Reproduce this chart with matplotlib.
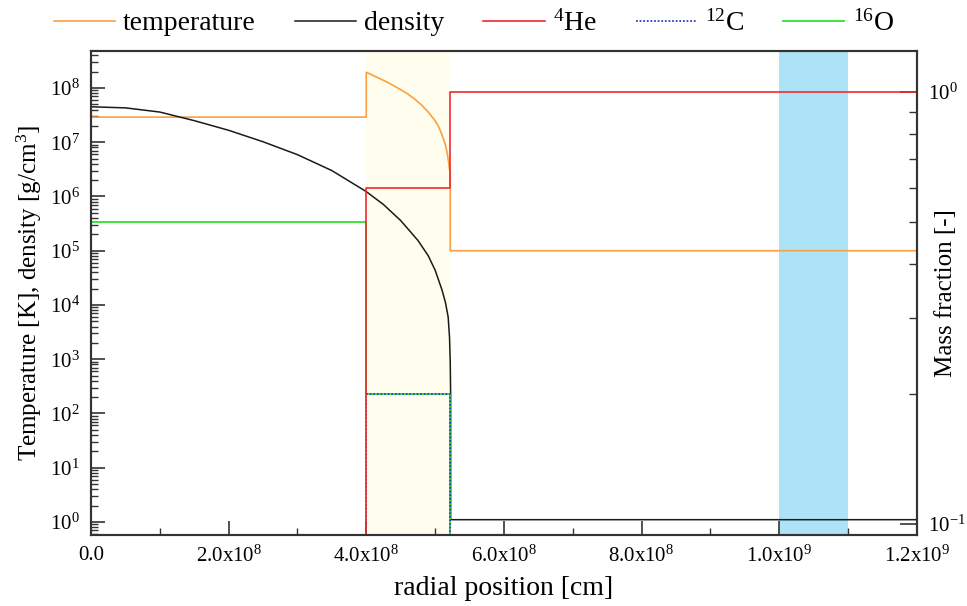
import matplotlib
matplotlib.use("Agg")
import matplotlib.pyplot as plt
from matplotlib.ticker import FuncFormatter, LogLocator, MultipleLocator, NullFormatter

plt.rcParams["font.family"] = ["Liberation Serif", "DejaVu Serif"]
plt.rcParams["mathtext.fontset"] = "stix"
plt.rcParams["mathtext.default"] = "regular"
plt.rcParams["axes.unicode_minus"] = False

# temperature profile [K]
temp_r = [0.0, 4.0e8, 4.0e8, 4.1e8, 4.2e8, 4.3e8, 4.4e8, 4.5e8, 4.6e8, 4.7e8,
          4.8e8, 4.9e8, 5.0e8, 5.05e8, 5.1e8, 5.15e8, 5.18e8, 5.2e8, 5.21e8,
          5.22e8, 5.22e8, 1.2e9]
temp_T = [2.9e7, 2.9e7, 1.95e8, 1.70e8, 1.48e8, 1.29e8, 1.10e8, 9.3e7, 7.8e7, 6.3e7,
          4.9e7, 3.6e7, 2.5e7, 1.95e7, 1.38e7, 8.9e6, 6.0e6, 4.0e6, 3.1e6,
          3.0e6, 1.0e5, 1.0e5]

# density profile [g/cm^3]
dens_r = [0.0, 0.5e8, 1.0e8, 1.5e8, 2.0e8, 2.5e8, 3.0e8, 3.5e8, 4.0e8, 4.25e8,
          4.5e8, 4.75e8, 4.9e8, 5.0e8, 5.1e8, 5.15e8, 5.19e8, 5.21e8, 5.22e8,
          5.226e8, 5.226e8, 1.2e9]
dens_rho = [4.5e7, 4.3e7, 3.6e7, 2.5e7, 1.66e7, 1.02e7, 5.9e6, 3.0e6, 1.23e6, 7.1e5,
            3.6e5, 1.55e5, 8.1e4, 4.4e4, 1.9e4, 1.12e4, 6.0e3, 2.5e3, 8.9e2,
            2.2e2, 1.1, 1.1]

# mass fractions per zone
zone_edges = [0.0, 4.0e8, 5.22e8, 1.2e9]
he4 = [0.0, 0.6, 1.0]
c12 = [0.0, 0.2, 0.0]
o16 = [0.5, 0.2, 0.0]

shell_span = (4.0e8, 5.22e8)
marker_span = (1.0e9, 1.1e9)

c_temp = "#F9A043"
c_dens = "#1a1a1a"
c_he = "#EE2B2B"
c_c = "#2B3FC4"
c_o = "#2EE02E"
spine_col = "#333333"


def sci_label(x, pos):
    if x == 0:
        return "0.0"
    exp = int(f"{x:e}".split("e")[1])
    return f"{x / 10**exp:.1f}x10$^{{{exp}}}$"


def steps(edges, vals):
    return edges, list(vals) + [vals[-1]]


fig = plt.figure(figsize=(9.67, 6.06), dpi=100)
ax = fig.add_axes([0.0941, 0.1172, 0.854, 0.7986])
ax2 = ax.twinx()

ax.axvspan(*shell_span, color="#FFFEEE", lw=0, zorder=0)
ax.axvspan(*marker_span, color="#ADE3F7", lw=0, zorder=0)

l_t, = ax.plot(temp_r, temp_T, color=c_temp, lw=1.2, label="temperature")
l_d, = ax.plot(dens_r, dens_rho, color=c_dens, lw=1.1, label="density")

x, y = steps(zone_edges, o16)
l_o, = ax2.plot(x, y, drawstyle="steps-post", color=c_o, lw=1.3, zorder=2.0,
                label="$^{16}$O")
x, y = steps(zone_edges, c12)
l_c, = ax2.plot(x, y, drawstyle="steps-post", color=c_c, lw=1.3, ls=(0, (1, 1)),
                zorder=2.2, label="$^{12}$C")
x, y = steps(zone_edges, he4)
l_h, = ax2.plot(x, y, drawstyle="steps-post", color=c_he, lw=1.2, zorder=2.4,
                label="$^{4}$He")

ax.set_yscale("log")
ax2.set_yscale("log")
ax.set_xlim(0, 1.2e9)
ax.set_ylim(0.575, 4.8e8)
ax2.set_ylim(0.0943, 1.245)

ax.xaxis.set_major_locator(MultipleLocator(2.0e8))
ax.xaxis.set_minor_locator(MultipleLocator(1.0e8))
ax.xaxis.set_major_formatter(FuncFormatter(sci_label))
ax.yaxis.set_major_locator(LogLocator(base=10, numticks=20))
ax.yaxis.set_minor_locator(LogLocator(base=10, subs=range(2, 10), numticks=20))
ax.yaxis.set_minor_formatter(NullFormatter())
ax2.yaxis.set_major_locator(LogLocator(base=10, numticks=5))
ax2.yaxis.set_minor_locator(LogLocator(base=10, subs=range(2, 10), numticks=5))
ax2.yaxis.set_minor_formatter(NullFormatter())

for a in (ax, ax2):
    for s in a.spines.values():
        s.set_color(spine_col)
        s.set_linewidth(1.5)
ax.tick_params(which="both", direction="in", top=False, right=False,
               color=spine_col, labelsize=15, pad=8)
ax.tick_params(which="major", length=10, width=1.2)
ax.tick_params(which="minor", length=5, width=1.0)
ax2.tick_params(which="both", direction="in", color=spine_col, labelsize=15, pad=8)
ax2.tick_params(which="major", length=12, width=1.2)
ax2.tick_params(which="minor", length=6, width=1.0)

ax.set_xlabel("radial position [cm]", fontsize=20, labelpad=6)
ax.set_ylabel("Temperature [K], density [g/cm$^{3}$]", fontsize=18, labelpad=4)
ax2.set_ylabel("Mass fraction [-]", fontsize=18)
ax2.yaxis.set_label_coords(1.022, 0.5)

fig.legend(handles=[l_t, l_d, l_h, l_c, l_o], loc="center", ncol=5,
           bbox_to_anchor=(0.49, 0.962), frameon=False, fontsize=20,
           handlelength=2.2, columnspacing=1.4, handletextpad=0.3)

fig.savefig("out.png", dpi=100)
